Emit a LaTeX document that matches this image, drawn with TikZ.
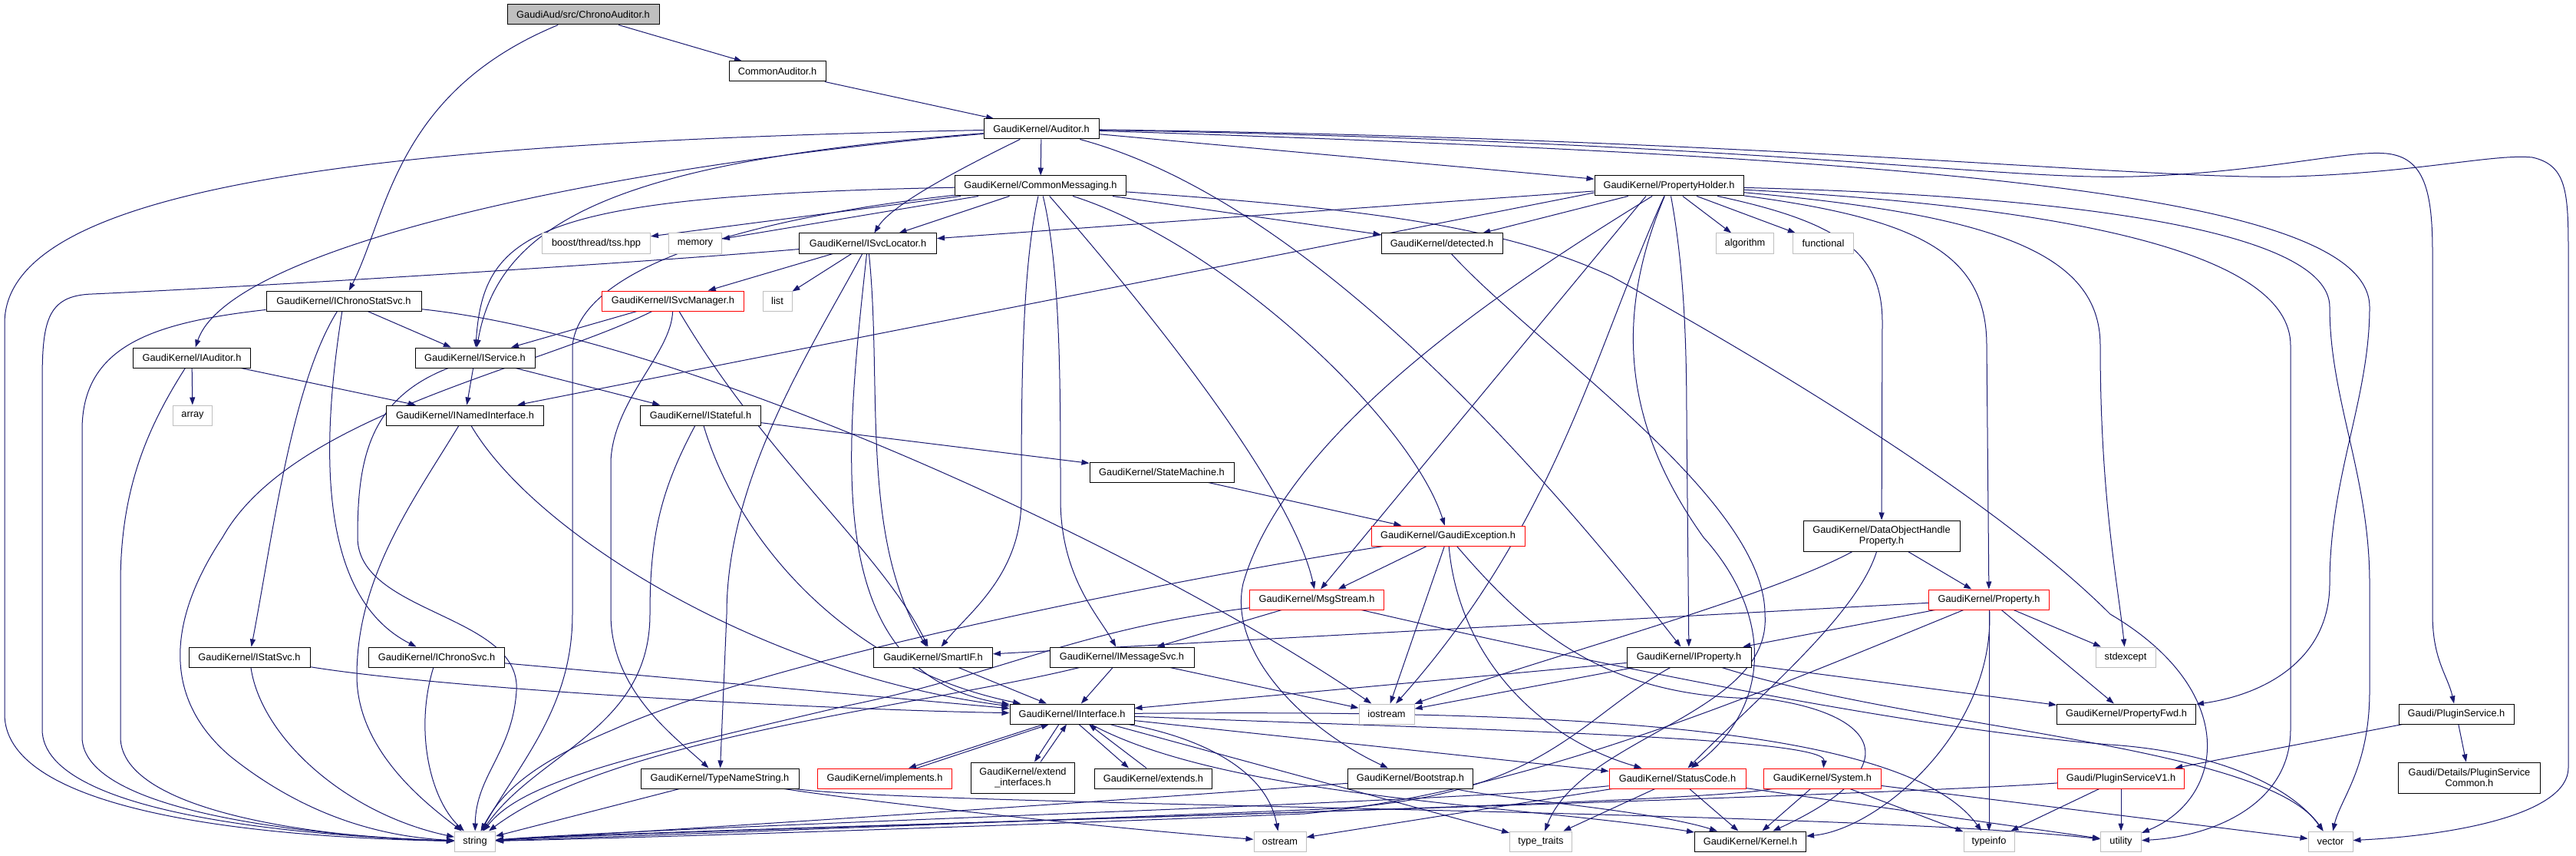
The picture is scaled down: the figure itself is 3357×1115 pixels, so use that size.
\documentclass[tikz,border=0pt]{standalone}
\usepackage{fontspec}
\setmainfont{Liberation Sans}
\usetikzlibrary{arrows.meta,backgrounds}
\definecolor{edgec}{HTML}{191970}
\definecolor{sysc}{HTML}{BFBFBF}
\definecolor{redc}{HTML}{FF0000}
\begin{document}
\begin{tikzpicture}[x=1pt,y=-1pt,
  nd/.style={draw=black, line width=1pt, fill=white, inner sep=0pt, minimum height=26pt, font=\fontsize{12.8pt}{14.5pt}\selectfont, align=center},
  rd/.style={nd, draw=redc},
  gd/.style={nd, draw=sysc},
  tl/.style={minimum height=40pt},
  edg/.style={draw=edgec, line width=1pt, -{Triangle[length=10pt,width=7pt]}}]
\useasboundingbox (0,0) rectangle (3357,1115);
% nodes
\node[nd,fill=sysc,minimum width=198pt] (root) at (760,19) {GaudiAud/src/ChronoAuditor.h};
\node[nd,minimum width=126pt] (cAud) at (1013,93) {CommonAuditor.h};
\node[nd,minimum width=150pt] (aud) at (1357,168) {GaudiKernel/Auditor.h};
\node[nd,minimum width=223pt] (cmsg) at (1356,242) {GaudiKernel/CommonMessaging.h};
\node[nd,minimum width=194pt] (phold) at (2175,242) {GaudiKernel/PropertyHolder.h};
\node[gd,minimum width=141pt] (boost) at (777,317) {boost/thread/tss.hpp};
\node[gd,minimum width=69pt] (memory) at (906,317) {memory};
\node[nd,minimum width=179pt] (svcloc) at (1131,317) {GaudiKernel/ISvcLocator.h};
\node[nd,minimum width=158pt] (detected) at (1879,317) {GaudiKernel/detected.h};
\node[gd,minimum width=75pt] (algorithm) at (2274,317) {algorithm};
\node[gd,minimum width=79pt] (functional) at (2376,317) {functional};
\node[nd,minimum width=202pt] (chronostat) at (448,392) {GaudiKernel/IChronoStatSvc.h};
\node[rd,minimum width=185pt] (svcmgr) at (877,392) {GaudiKernel/ISvcManager.h};
\node[gd,minimum width=38pt] (list) at (1013,392) {list};
\node[nd,minimum width=153pt] (iauditor) at (250,466) {GaudiKernel/IAuditor.h};
\node[nd,minimum width=156pt] (iservice) at (619,466) {GaudiKernel/IService.h};
\node[gd,minimum width=51pt] (array) at (251,541) {array};
\node[nd,minimum width=205pt] (inamed) at (606,541) {GaudiKernel/INamedInterface.h};
\node[nd,minimum width=157pt] (istateful) at (913,541) {GaudiKernel/IStateful.h};
\node[nd,minimum width=188pt] (statemachine) at (1514,615) {GaudiKernel/StateMachine.h};
\node[rd,minimum width=200pt] (gexc) at (1887,698) {GaudiKernel/GaudiException.h};
\node[nd,tl,minimum width=204pt] (dohp) at (2452,698) {GaudiKernel/DataObjectHandle\\Property.h};
\node[rd,minimum width=175pt] (msgstream) at (1716,781) {GaudiKernel/MsgStream.h};
\node[rd,minimum width=157pt] (property) at (2592,781) {GaudiKernel/Property.h};
\node[nd,minimum width=158pt] (statsvc) at (325,856) {GaudiKernel/IStatSvc.h};
\node[nd,minimum width=177pt] (chronosvc) at (569,856) {GaudiKernel/IChronoSvc.h};
\node[nd,minimum width=155pt] (smartif) at (1216,856) {GaudiKernel/SmartIF.h};
\node[nd,minimum width=188pt] (imsgsvc) at (1462,856) {GaudiKernel/IMessageSvc.h};
\node[nd,minimum width=162pt] (iproperty) at (2201,856) {GaudiKernel/IProperty.h};
\node[gd,minimum width=78pt] (stdexcept) at (2770,856) {stdexcept};
\node[nd,minimum width=162pt] (iinterface) at (1397,930) {GaudiKernel/IInterface.h};
\node[gd,minimum width=72pt] (iostream) at (1807,930) {iostream};
\node[nd,minimum width=181pt] (propfwd) at (2771,930) {GaudiKernel/PropertyFwd.h};
\node[nd,minimum width=150pt] (pluginsvc) at (3201,930) {Gaudi/PluginService.h};
\node[nd,minimum width=206pt] (typename) at (938,1014) {GaudiKernel/TypeNameString.h};
\node[rd,minimum width=175pt] (implements) at (1153,1014) {GaudiKernel/implements.h};
\node[nd,tl,minimum width=135pt] (extif) at (1333,1013) {GaudiKernel/extend\\\_interfaces.h};
\node[nd,minimum width=153pt] (extends) at (1503,1014) {GaudiKernel/extends.h};
\node[nd,minimum width=163pt] (bootstrap) at (1838,1014) {GaudiKernel/Bootstrap.h};
\node[rd,minimum width=178pt] (statuscode) at (2186,1014) {GaudiKernel/StatusCode.h};
\node[rd,minimum width=153pt] (system) at (2375,1014) {GaudiKernel/System.h};
\node[rd,minimum width=165pt] (psv1) at (2764,1014) {Gaudi/PluginServiceV1.h};
\node[nd,tl,minimum width=185pt] (pscommon) at (3218,1013) {Gaudi/Details/PluginService\\Common.h};
\node[gd,minimum width=53pt] (string) at (619,1096) {string};
\node[gd,minimum width=68pt] (ostream) at (1668,1096) {ostream};
\node[gd,minimum width=81pt] (typetraits) at (2008,1096) {type\_traits};
\node[nd,minimum width=145pt] (kernel) at (2281,1096) {GaudiKernel/Kernel.h};
\node[gd,minimum width=66pt] (typeinfo) at (2592,1096) {typeinfo};
\node[gd,minimum width=53pt] (utility) at (2764,1096) {utility};
\node[gd,minimum width=58pt] (vector) at (3037,1096) {vector};

\begin{scope}[on background layer]
\fill[white] (0,0) rectangle (3357,1115);
% root
\draw[edg] (root) -- (cAud);
\draw[edg] (root) .. controls (515,120) and (505,280) .. (chronostat);
\draw[edg] (cAud) -- (aud);
% Auditor
\draw[edg] (aud) .. controls (500,185) and (8,240) .. (6,420) -- (6,930) .. controls (6,1070) and (400,1092) .. (string);
\draw[edg] (aud) .. controls (800,215) and (300,320) .. (iauditor);
\draw[edg] (aud) .. controls (800,210) and (650,290) .. (iservice);
\draw[edg] (aud) .. controls (1230,230) and (1160,270) .. (svcloc);
\draw[edg] (aud) -- (cmsg);
\draw[edg] (aud) -- (phold);
\draw[edg] (aud) .. controls (1700,260) and (2000,600) .. (iproperty);
\draw[edg] (aud) .. controls (2500,205) and (3088,250) .. (3088,400) .. controls (3088,520) and (3036,620) .. (3036,760) .. controls (3036,860) and (2950,905) .. (propfwd);
\draw[edg] (aud) .. controls (2300,185) and (2600,235) .. (2780,230) .. controls (2950,225) and (3060,195) .. (3110,200) .. controls (3160,205) and (3170,250) .. (3170,330) -- (3170,800) .. controls (3170,860) and (3190,880) .. (pluginsvc);
\draw[edg] (aud) .. controls (2300,180) and (2800,235) .. (2985,230) .. controls (3150,225) and (3250,200) .. (3300,205) .. controls (3345,215) and (3347,250) .. (3347,330) -- (3347,1000) .. controls (3347,1060) and (3200,1088) .. (vector);
% CommonMessaging
\draw[edg] (cmsg) -- (boost);
\draw[edg] (cmsg) -- (memory);
\draw[edg] (cmsg) .. controls (700,255) and (630,300) .. (iservice);
\draw[edg] (cmsg) .. controls (1100,270) and (760,320) .. (746,450) -- (746,800) .. controls (746,920) and (680,990) .. (string);
\draw[edg] (cmsg) -- (svcloc);
\draw[edg] (cmsg) .. controls (1332,350) and (1331,500) .. (1331,650) .. controls (1331,750) and (1260,800) .. (smartif);
\draw[edg] (cmsg) .. controls (1382,350) and (1382,500) .. (1382,650) .. controls (1382,750) and (1430,800) .. (imsgsvc);
\draw[edg] (cmsg) .. controls (1450,350) and (1680,620) .. (msgstream);
\draw[edg] (cmsg) .. controls (1600,320) and (1840,550) .. (gexc);
\draw[edg] (cmsg) -- (detected);
\draw[edg] (cmsg) .. controls (1750,270) and (1950,290) .. (2100,360) .. controls (2300,470) and (2600,650) .. (2750,800) .. controls (2920,900) and (2900,1040) .. (utility);
% PropertyHolder
\draw[edg] (phold) -- (svcloc);
\draw[edg] ([yshift=-9pt]phold.west) -- (inamed);
\draw[edg] (phold) -- (detected);
\draw[edg] ([xshift=-30pt]phold.south) -- ([xshift=5pt]msgstream.north);
\draw[edg] (phold) .. controls (2000,350) and (1680,550) .. (1620,760) .. controls (1600,850) and (1700,950) .. (bootstrap);
\draw[edg] (phold) .. controls (2080,450) and (2030,680) .. (iostream);
\draw[edg] (phold) .. controls (2100,420) and (2120,560) .. (2220,700) .. controls (2310,800) and (2310,920) .. (statuscode);
\draw[edg] (phold) .. controls (2195,350) and (2198,450) .. (2198,550) -- (iproperty);
\draw[edg] (phold) -- (algorithm);
\draw[edg] (phold) -- (functional);
\draw[edg] (phold) .. controls (2400,290) and (2453,330) .. (2453,420) -- (dohp);
\draw[edg] (phold) .. controls (2500,285) and (2589,330) .. (2589,450) -- (property);
\draw[edg] (phold) .. controls (2600,280) and (2737,330) .. (2737,450) .. controls (2737,650) and (2760,760) .. (stdexcept);
\draw[edg] (phold) .. controls (2700,270) and (2985,330) .. (2985,450) -- (2985,950) .. controls (2985,1050) and (2880,1090) .. (utility);
\draw[edg] (phold) .. controls (2700,255) and (3036,300) .. (3036,400) .. controls (3036,520) and (3088,620) .. (3088,760) -- (3088,900) .. controls (3088,1000) and (3050,1040) .. (vector);
% ISvcLocator
\draw[edg] (svcloc) .. controls (800,345) and (300,375) .. (120,383) .. controls (60,385) and (55,420) .. (55,500) -- (55,950) .. controls (55,1065) and (420,1090) .. (string);
\draw[edg] (svcloc) -- (svcmgr);
\draw[edg] (svcloc) -- (list);
\draw[edg] (svcloc) .. controls (1150,500) and (1120,700) .. (smartif);
\draw[edg] (svcloc) .. controls (1100,600) and (1070,880) .. (iinterface);
\draw[edg] (svcloc) .. controls (1060,450) and (947,620) .. (947,800) -- (typename);
% IChronoStatSvc
\draw[edg] (chronostat) -- (iservice);
\draw[edg] (chronostat) .. controls (380,500) and (355,700) .. (statsvc);
\draw[edg] (chronostat) .. controls (415,600) and (420,780) .. (chronosvc);
\draw[edg] (chronostat) .. controls (200,420) and (107,450) .. (107,560) -- (107,960) .. controls (107,1060) and (420,1090) .. (string);
\draw[edg] (chronostat) .. controls (900,440) and (1500,720) .. (iostream);
% ISvcManager
\draw[edg] (svcmgr) -- (iservice);
\draw[edg] (svcmgr) .. controls (700,480) and (380,540) .. (290,700) .. controls (230,790) and (200,900) .. (300,985) .. controls (400,1065) and (500,1090) .. (string);
\draw[edg] (svcmgr) .. controls (875,460) and (800,520) .. (796,600) -- (796,800) .. controls (796,900) and (880,960) .. (typename);
\draw[edg] (svcmgr) .. controls (1000,600) and (1150,720) .. (smartif);
% IAuditor
\draw[edg] (iauditor) -- (array);
\draw[edg] (iauditor) -- (inamed);
\draw[edg] (iauditor) .. controls (190,560) and (157,640) .. (157,760) -- (157,960) .. controls (157,1060) and (430,1092) .. (string);
% IService
\draw[edg] (iservice) -- (inamed);
\draw[edg] (iservice) -- (istateful);
\draw[edg] (iservice) .. controls (480,520) and (466,600) .. (466,700) .. controls (466,800) and (680,800) .. (673,900) .. controls (668,980) and (620,1010) .. (string);
% INamedInterface
\draw[edg] (inamed) .. controls (700,700) and (1000,880) .. (iinterface);
\draw[edg] (inamed) .. controls (540,650) and (465,750) .. (465,880) .. controls (465,980) and (560,1050) .. (string);
% IStateful
\draw[edg] (istateful) -- (statemachine);
\draw[edg] (istateful) .. controls (960,700) and (1100,870) .. (iinterface);
\draw[edg] (istateful) .. controls (860,640) and (847,700) .. (847,800) .. controls (847,950) and (700,980) .. (string);
\draw[edg] (statemachine) -- (gexc);
% GaudiException
\draw[edg] (gexc) .. controls (1500,760) and (1000,860) .. (800,950) .. controls (680,1000) and (650,1040) .. (string);
\draw[edg] (gexc) -- (msgstream);
\draw[edg] (gexc) -- (iostream);
\draw[edg] (gexc) .. controls (1900,850) and (2000,960) .. (statuscode);
\draw[edg] (gexc) .. controls (2000,830) and (2100,910) .. (2300,910) .. controls (2450,930) and (2490,1000) .. (kernel);
% DataObjectHandleProperty
\draw[edg] (dohp) .. controls (2300,780) and (2000,860) .. (iostream);
\draw[edg] (dohp) .. controls (2420,800) and (2300,900) .. (statuscode);
\draw[edg] (dohp) -- (property);
% MsgStream
\draw[edg] (msgstream) -- (imsgsvc);
\draw[edg] (msgstream) .. controls (1400,820) and (1300,880) .. (1100,920) .. controls (800,990) and (680,1020) .. (string);
\draw[edg] (msgstream) .. controls (2100,870) and (2500,950) .. (2750,970) .. controls (2900,980) and (2990,1030) .. (vector);
% IMessageSvc
\draw[edg] (imsgsvc) -- (iinterface);
\draw[edg] (imsgsvc) -- (iostream);
\draw[edg] (imsgsvc) .. controls (1200,920) and (800,960) .. (string);
\draw[edg] (smartif) -- (iinterface);
% IStatSvc / IChronoSvc
\draw[edg] (statsvc) .. controls (600,900) and (1100,925) .. (iinterface);
\draw[edg] (statsvc) .. controls (340,960) and (450,1060) .. (string);
\draw[edg] (chronosvc) -- (iinterface);
\draw[edg] (chronosvc) .. controls (540,950) and (560,1040) .. (string);
% IProperty
\draw[edg] (iproperty) -- (iinterface);
\draw[edg] (iproperty) -- (iostream);
\draw[edg] (iproperty) -- (propfwd);
\draw[edg] (iproperty) .. controls (2500,950) and (2950,970) .. (vector);
\draw[edg] (iproperty) .. controls (2050,940) and (2010,1045) .. (1700,1055) .. controls (1200,1075) and (800,1090) .. (string);
% Property
\draw[edg] (property) -- (iproperty);
\draw[edg] (property) -- (stdexcept);
\draw[edg] (property) -- (propfwd);
\draw[edg] (property) -- (typeinfo);
\draw[edg] (property) .. controls (2600,950) and (2450,1080) .. (kernel);
\draw[edg] (property) -- (smartif);
\draw[edg] (property) .. controls (2300,900) and (2000,1030) .. (1700,1060) .. controls (1200,1080) and (800,1092) .. (string);
% PluginService
\draw[edg] (pluginsvc) -- (psv1);
\draw[edg] (pluginsvc) -- (pscommon);
\draw[edg] (psv1) .. controls (2400,1040) and (900,1080) .. (string);
\draw[edg] (psv1) -- (typeinfo);
\draw[edg] (psv1) -- (utility);
% IInterface
\draw[edg] ([xshift=-37pt]iinterface.south) -- ([xshift=31pt]implements.north);
\draw[edg] ([xshift=42pt]implements.north) -- ([xshift=-30pt]iinterface.south);
\draw[edg] ([xshift=-17pt]iinterface.south) -- ([xshift=15pt]extif.north);
\draw[edg] ([xshift=23pt]extif.north) -- ([xshift=-7pt]iinterface.south);
\draw[edg] ([xshift=9pt]iinterface.south) -- ([xshift=-32pt]extends.north);
\draw[edg] ([xshift=-9pt]extends.north) -- ([xshift=22pt]iinterface.south);
\draw[edg] (iinterface) .. controls (1560,960) and (1650,1000) .. (ostream);
\draw[edg] (iinterface) -- (typetraits);
\draw[edg] (iinterface) -- (statuscode);
\draw[edg] (iinterface) .. controls (1900,950) and (2380,960) .. (system);
\draw[edg] (iinterface) .. controls (2000,925) and (2480,940) .. (typeinfo);
\draw[edg] (iinterface) .. controls (1600,1040) and (2000,1050) .. (kernel);
% TypeNameString
\draw[edg] (typename) -- (string);
\draw[edg] (typename) .. controls (1100,1040) and (1400,1075) .. (ostream);
\draw[edg] (typename) .. controls (1200,1050) and (2400,1055) .. (utility);
% Bootstrap
\draw[edg] (bootstrap) .. controls (1500,1040) and (900,1080) .. (string);
\draw[edg] (bootstrap) .. controls (1950,1040) and (2150,1055) .. (kernel);
% StatusCode
\draw[edg] (statuscode) .. controls (1900,1045) and (900,1075) .. (string);
\draw[edg] (statuscode) -- (ostream);
\draw[edg] (statuscode) -- (typetraits);
\draw[edg] (statuscode) -- (kernel);
\draw[edg] (statuscode) -- (utility);
% System
\draw[edg] (system) .. controls (2200,1050) and (900,1078) .. (string);
\draw[edg] (system) -- (kernel);
\draw[edg] (system) -- (typeinfo);
\draw[edg] (system) -- (vector);
% detected
\draw[edg] (detected) .. controls (2000,450) and (2300,650) .. (2300,800) .. controls (2310,930) and (2060,960) .. (typetraits);
\end{scope}
\end{tikzpicture}
\end{document}
